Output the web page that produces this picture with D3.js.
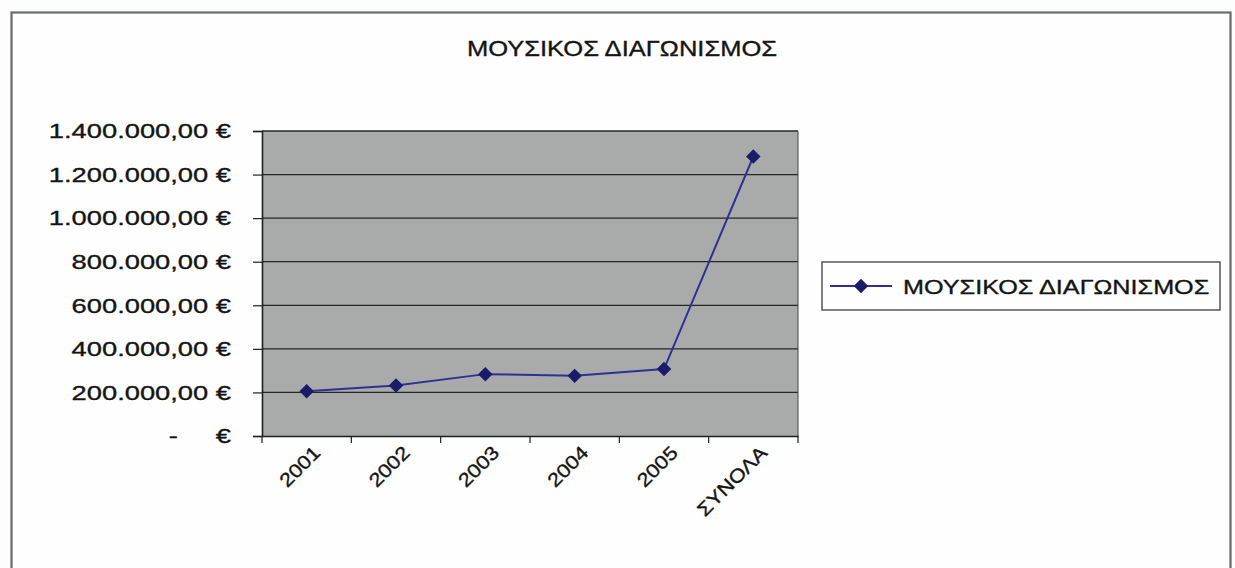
<!DOCTYPE html>
<html><head><meta charset="utf-8">
<script src="https://cdn.jsdelivr.net/npm/d3@7"></script>
<style>body{margin:0;background:#fcfdfc;} text{font-family:"Liberation Sans",Arial,sans-serif;fill:#141414;stroke:#141414;stroke-width:0.35px;}</style>
</head><body>
<svg id="c" width="1235" height="568"></svg>
<script>
const title = "ΜΟΥΣΙΚΟΣ ΔΙΑΓΩΝΙΣΜΟΣ";
const seriesName = "ΜΟΥΣΙΚΟΣ ΔΙΑΓΩΝΙΣΜΟΣ";
const categories = ["2001","2002","2003","2004","2005","ΣΥΝΟΛΑ"];
const values = [205000, 232000, 284000, 276000, 307000, 1283000];
const yTicks = [0,200000,400000,600000,800000,1000000,1200000,1400000];

const svg = d3.select("#c");
// stretch text horizontally to mimic the wide scanned glyphs
function widen(sel, k){
  sel.each(function(){
    const w = this.getComputedTextLength();
    d3.select(this).attr("textLength", w*k).attr("lengthAdjust","spacingAndGlyphs");
  });
}

// outer frame
svg.append("rect").attr("x",11.5).attr("y",12.5).attr("width",1219).attr("height",600)
  .attr("fill","#fdfefd").attr("stroke","#686c6a").attr("stroke-width",2.2);

const L=262, R=798, T=131, B=436;
const x = d3.scaleBand().domain(categories).range([L,R]);
const y = d3.scaleLinear().domain([0,1400000]).range([B,T]);

svg.append("rect").attr("x",L).attr("y",T).attr("width",R-L).attr("height",B-T).attr("fill","#a9abab");

// gridlines
svg.append("g").selectAll("line").data(yTicks.slice(1)).join("line")
  .attr("x1",L).attr("x2",R).attr("y1",d=>y(d)).attr("y2",d=>y(d))
  .attr("stroke","#262626").attr("stroke-width",1.3);
svg.append("line").attr("x1",R).attr("x2",R).attr("y1",T).attr("y2",B).attr("stroke","#444").attr("stroke-width",1);

const nf = d3.formatLocale({decimal:",",thousands:".",grouping:[3],currency:["","€"]}).format(",.2f");
const fmt = v => v===0 ? "-     €" : nf(v)+" €";

const ya = d3.axisLeft(y).tickValues(yTicks).tickSize(9).tickFormat(fmt).tickPadding(22);
const gy = svg.append("g").attr("transform",`translate(${L},0)`).call(ya);
gy.select(".domain").attr("stroke","#1e1e1e").attr("stroke-width",1.6);
gy.selectAll(".tick line").attr("stroke","#1e1e1e").attr("stroke-width",1.2);
gy.selectAll("text").style("font-size","21px").style("white-space","pre").attr("fill","#141414");
widen(gy.selectAll("text"), 1.3);

const xa = d3.axisBottom(x).tickSize(0).tickFormat(d=>d);
const gx = svg.append("g").attr("transform",`translate(0,${B})`).call(xa);
gx.select(".domain").attr("stroke","#1e1e1e").attr("stroke-width",1.6);
gx.selectAll(".tick text").style("font-size","19px")
  .attr("text-anchor","end").attr("dy",null).attr("y",0)
  .attr("transform","translate(15,18) rotate(-45)");
widen(gx.selectAll(".tick text"), 1.15);
// category boundary ticks
const bounds = categories.map(c=>x(c)).concat([R]);
svg.append("g").selectAll("line").data(bounds).join("line")
  .attr("x1",d=>d).attr("x2",d=>d).attr("y1",B).attr("y2",B+7).attr("stroke","#1e1e1e").attr("stroke-width",1.2);

// line
const line = d3.line().x((d,i)=>x(categories[i])+x.bandwidth()/2).y(d=>y(d));
svg.append("path").datum(values).attr("d",line).attr("fill","none").attr("stroke","#2f3192").attr("stroke-width",2);
const sym = d3.symbol().type(d3.symbolSquare).size(105);
svg.append("g").selectAll("path").data(values).join("path")
  .attr("d",sym).attr("transform",(d,i)=>`translate(${x(categories[i])+x.bandwidth()/2},${y(d)}) rotate(45)`)
  .attr("fill","#1b1b6a");

// title
const tt = svg.append("text").attr("x",622).attr("y",56).attr("text-anchor","middle").style("font-size","22px").text(title);
widen(tt, 1.16);

// legend
svg.append("rect").attr("x",822).attr("y",262).attr("width",398).attr("height",48)
  .attr("fill","#fdfefd").attr("stroke","#555").attr("stroke-width",1.5);
svg.append("line").attr("x1",830).attr("x2",892).attr("y1",286).attr("y2",286).attr("stroke","#2f3192").attr("stroke-width",2);
svg.append("path").attr("d",sym()).attr("transform","translate(861,286) rotate(45)").attr("fill","#1b1b6a");
const lt = svg.append("text").attr("x",903).attr("y",294).style("font-size","21px").text(seriesName);
widen(lt, 1.2);
</script>
</body></html>
